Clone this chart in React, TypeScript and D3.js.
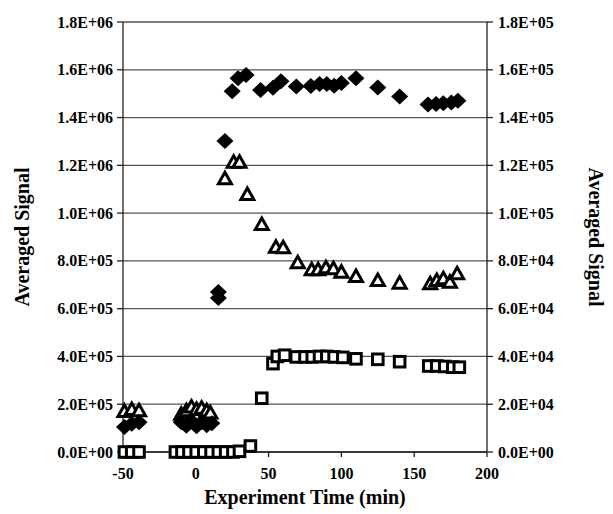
import React from "react";
import * as d3 from "d3";

// Experiment time (min) and averaged signal for each series
const diamondTime = [-49, -44, -39, -10, -6.5, -3, 0.5, 4, 7.5, 11, 15.5, 15.5, 20, 25, 29, 34.5, 44.5, 53, 58.5, 69, 79, 85, 90, 95, 100, 110, 125, 140, 159.5, 165, 170, 175.5, 180];
const diamondSignal = [1.05e5, 1.18e5, 1.25e5, 1.25e5, 1.1e5, 1.3e5, 1.08e5, 1.25e5, 1.12e5, 1.2e5, 6.7e5, 6.45e5, 1.302e6, 1.51e6, 1.565e6, 1.578e6, 1.515e6, 1.525e6, 1.552e6, 1.53e6, 1.532e6, 1.54e6, 1.54e6, 1.533e6, 1.545e6, 1.565e6, 1.526e6, 1.488e6, 1.455e6, 1.457e6, 1.46e6, 1.463e6, 1.47e6];

// plotted against the secondary axis
const triangleTime = [-49, -44, -39, -10, -6.5, -3, 0.5, 4, 7.5, 10, 20, 26, 30, 35.4, 45.3, 55, 60, 70, 79.6, 84, 89.4, 94.5, 100, 110, 125, 140, 161, 165.5, 170, 174.5, 179.5];
const triangleSignal = [1.72e4, 1.8e4, 1.75e4, 1.6e4, 1.75e4, 1.9e4, 1.8e4, 1.85e4, 1.75e4, 1.65e4, 1.146e5, 1.215e5, 1.215e5, 1.08e5, 9.54e4, 8.59e4, 8.57e4, 7.94e4, 7.65e4, 7.65e4, 7.73e4, 7.69e4, 7.55e4, 7.37e4, 7.2e4, 7.09e4, 7.06e4, 7.2e4, 7.27e4, 7.13e4, 7.48e4];

const squareTime = [-49, -44, -39, -14, -9.5, -4.7, 0.3, 5.5, 10.5, 15.5, 20.5, 25.5, 30, 37.5, 45.3, 53, 56, 61, 69, 75, 80, 85, 90, 95, 101, 110, 125, 140, 160, 165.5, 171, 176.5, 181];
const squareSignal = [0, 0, 0, 0, 0, 0, 0, 0, 0, 0, 0, 0, 3e3, 2.5e4, 2.25e5, 3.7e5, 4.0e5, 4.05e5, 3.98e5, 3.98e5, 3.98e5, 4.0e5, 4.0e5, 3.98e5, 3.96e5, 3.9e5, 3.88e5, 3.78e5, 3.6e5, 3.6e5, 3.58e5, 3.55e5, 3.55e5];

const xTicks = [-50, 0, 50, 100, 150, 200];
const leftTicks = [0, 2e5, 4e5, 6e5, 8e5, 1e6, 1.2e6, 1.4e6, 1.6e6, 1.8e6];
const rightTicks = [0, 2e4, 4e4, 6e4, 8e4, 1e5, 1.2e5, 1.4e5, 1.6e5, 1.8e5];

const W = 613;
const H = 514;
const M = { left: 123, right: 487, top: 22, bottom: 452 };
const FONT = '"Liberation Serif", "DejaVu Serif", serif';

const fmt = (v: number) => {
  const s = v.toExponential(1).toUpperCase();
  const [m, e] = s.split("E");
  const sign = e.startsWith("-") ? "-" : "+";
  const digits = e.replace(/[+-]/, "").padStart(2, "0");
  return `${m}E${sign}${digits}`;
};

export default function App() {
  const x = d3.scaleLinear().domain([-50, 200]).range([M.left, M.right]);
  const yL = d3.scaleLinear().domain([0, 1.8e6]).range([M.bottom, M.top]);
  const yR = d3.scaleLinear().domain([0, 1.8e5]).range([M.bottom, M.top]);

  const diamond = (cx: number, cy: number) =>
    `M${cx},${cy - 8}L${cx + 8.5},${cy}L${cx},${cy + 8}L${cx - 8.5},${cy}Z`;
  const triangle = (cx: number, cy: number) =>
    `M${cx},${cy - 6}L${cx + 6.5},${cy + 5.5}L${cx - 6.5},${cy + 5.5}Z`;

  const textStyle = { fontFamily: FONT, fontWeight: 700 } as React.CSSProperties;

  return (
    <svg
      width={W}
      height={H}
      style={{ position: "absolute", left: 0, top: 0, background: "#fff" }}
    >
      {/* horizontal gridlines */}
      {leftTicks.map((t) => (
        <line key={"g" + t} x1={M.left} x2={M.right} y1={yL(t)} y2={yL(t)} stroke="#555" strokeWidth={1.3} />
      ))}
      {/* axes */}
      <line x1={M.left} x2={M.left} y1={M.top} y2={M.bottom} stroke="#222" strokeWidth={1.3} />
      <line x1={M.right} x2={M.right} y1={M.top} y2={M.bottom} stroke="#222" strokeWidth={1.3} />
      <line x1={M.left} x2={M.right} y1={M.bottom} y2={M.bottom} stroke="#222" strokeWidth={1.3} />

      {/* left axis ticks and labels */}
      {leftTicks.map((t) => (
        <g key={"l" + t}>
          <line x1={M.left - 6} x2={M.left} y1={yL(t)} y2={yL(t)} stroke="#222" strokeWidth={1.3} />
          <text x={M.left - 10} y={yL(t)} dy="0.35em" textAnchor="end" fontSize={16} style={textStyle}>
            {fmt(t)}
          </text>
        </g>
      ))}
      {/* right axis ticks and labels */}
      {rightTicks.map((t) => (
        <g key={"r" + t}>
          <line x1={M.right} x2={M.right + 6} y1={yR(t)} y2={yR(t)} stroke="#222" strokeWidth={1.3} />
          <text x={M.right + 11} y={yR(t)} dy="0.35em" textAnchor="start" fontSize={16} style={textStyle}>
            {fmt(t)}
          </text>
        </g>
      ))}
      {/* x axis ticks and labels */}
      {xTicks.map((t) => (
        <g key={"x" + t}>
          <line x1={x(t)} x2={x(t)} y1={M.bottom} y2={M.bottom + 5} stroke="#222" strokeWidth={1.3} />
          <text x={x(t)} y={M.bottom + 27} textAnchor="middle" fontSize={16} style={textStyle}>
            {t}
          </text>
        </g>
      ))}

      {/* axis titles */}
      <text x={(M.left + M.right) / 2} y={504} textAnchor="middle" fontSize={20} style={textStyle}>
        Experiment Time (min)
      </text>
      <text
        transform={`translate(22,${(M.top + M.bottom) / 2}) rotate(-90)`}
        textAnchor="middle"
        dy="0.35em"
        fontSize={20}
        style={textStyle}
      >
        Averaged Signal
      </text>
      <text
        transform={`translate(596,${(M.top + M.bottom) / 2}) rotate(90)`}
        textAnchor="middle"
        dy="0.35em"
        fontSize={20}
        style={textStyle}
      >
        Averaged Signal
      </text>

      {/* squares */}
      {squareTime.map((t, i) => (
        <rect
          key={"s" + i}
          x={x(t) - 5.3}
          y={yL(squareSignal[i]) - 5.3}
          width={10.6}
          height={10.6}
          fill="#fff"
          stroke="#000"
          strokeWidth={3}
        />
      ))}
      {/* triangles (secondary axis) */}
      {triangleTime.map((t, i) => (
        <path
          key={"t" + i}
          d={triangle(x(t), yR(triangleSignal[i]))}
          fill="#fff"
          stroke="#000"
          strokeWidth={3}
          strokeLinejoin="miter"
        />
      ))}
      {/* diamonds */}
      {diamondTime.map((t, i) => (
        <path key={"d" + i} d={diamond(x(t), yL(diamondSignal[i]))} fill="#000" />
      ))}
    </svg>
  );
}
